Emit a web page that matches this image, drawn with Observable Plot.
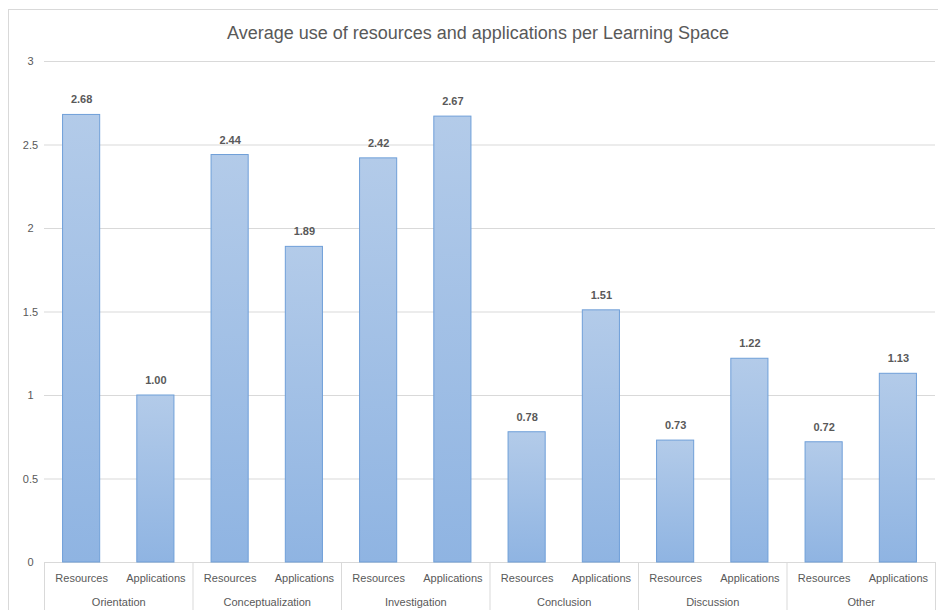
<!DOCTYPE html>
<html>
<head>
<meta charset="utf-8">
<script src="https://cdn.jsdelivr.net/npm/d3@7"></script>
<script src="https://cdn.jsdelivr.net/npm/@observablehq/plot@0.6"></script>
<style>
  html, body { margin: 0; padding: 0; background: #fff; width: 938px; height: 610px; overflow: hidden; }
  #frame { position: absolute; left: 8px; top: 9px; width: 940px; height: 610px; border: 1px solid #d9d9d9; box-sizing: border-box; }
  #chart { position: absolute; left: 0; top: 0; }
</style>
</head>
<body>
<div id="frame"></div>
<div id="chart"></div>
<script>
const title = "Average use of resources and applications per Learning Space";
const groups = ["Orientation", "Conceptualization", "Investigation", "Conclusion", "Discussion", "Other"];
const types = ["Resources", "Applications"];
const resources = [2.68, 2.44, 2.42, 0.78, 0.73, 0.72];
const applications = [1.00, 1.89, 2.67, 1.51, 1.22, 1.13];
const yTicks = [0, 0.5, 1, 1.5, 2, 2.5, 3];

const rows = groups.flatMap((g, i) => [
  {group: g, type: types[0], value: resources[i], idx: 2 * i},
  {group: g, type: types[1], value: applications[i], idx: 2 * i + 1}
]);

const textColor = "#595959";
const gridColor = "#d9d9d9";

const chart = Plot.plot({
  width: 938,
  height: 610,
  marginLeft: 44,
  marginRight: 3,
  marginTop: 61,
  marginBottom: 48,
  style: {fontFamily: "'Liberation Sans', Arial, sans-serif", fontSize: "11px", color: textColor, background: "transparent"},
  x: {domain: [0, groups.length * 2], axis: null},
  y: {domain: [0, 3], axis: null},
  marks: [
    Plot.ruleY(yTicks, {stroke: gridColor, strokeWidth: 1}),
    Plot.rectY(rows, {
      x1: d => d.idx + 0.25,
      x2: d => d.idx + 0.75,
      y1: 0,
      y2: "value",
      fill: "url(#barGrad)",
      stroke: "#6f9fd8",
      strokeWidth: 1
    }),
    Plot.text(rows, {
      x: d => d.idx + 0.5,
      y: "value",
      text: d => d.value.toFixed(2),
      dy: -15,
      fontWeight: "bold",
      fill: textColor
    }),
    Plot.text(rows, {
      x: d => d.idx + 0.5,
      y: 0,
      text: "type",
      dy: 16,
      fill: textColor
    }),
    Plot.text(groups, {
      x: (d, i) => 2 * i + 1,
      y: 0,
      text: d => d,
      dy: 40,
      fill: textColor
    }),
    Plot.ruleX(d3.range(0, groups.length * 2 + 1, 2), {
      y1: 0, y2: -0.32, stroke: gridColor, strokeWidth: 1
    }),
    Plot.text(yTicks, {
      y: d => d,
      text: d => String(d),
      frameAnchor: "left",
      dx: -14,
      textAnchor: "middle",
      fill: textColor
    }),
    Plot.text([title], {
      frameAnchor: "top",
      dy: -35,
      dx: -12,
      fontSize: 18,
      fill: textColor
    })
  ]
});

const svg = d3.select(chart);
const defs = svg.insert("defs", ":first-child");
const grad = defs.append("linearGradient")
  .attr("id", "barGrad")
  .attr("x1", 0).attr("y1", 0).attr("x2", 0).attr("y2", 1);
grad.append("stop").attr("offset", "0%").attr("stop-color", "#b3cbe9");
grad.append("stop").attr("offset", "100%").attr("stop-color", "#8fb4e2");

document.getElementById("chart").appendChild(chart);
</script>
</body>
</html>
